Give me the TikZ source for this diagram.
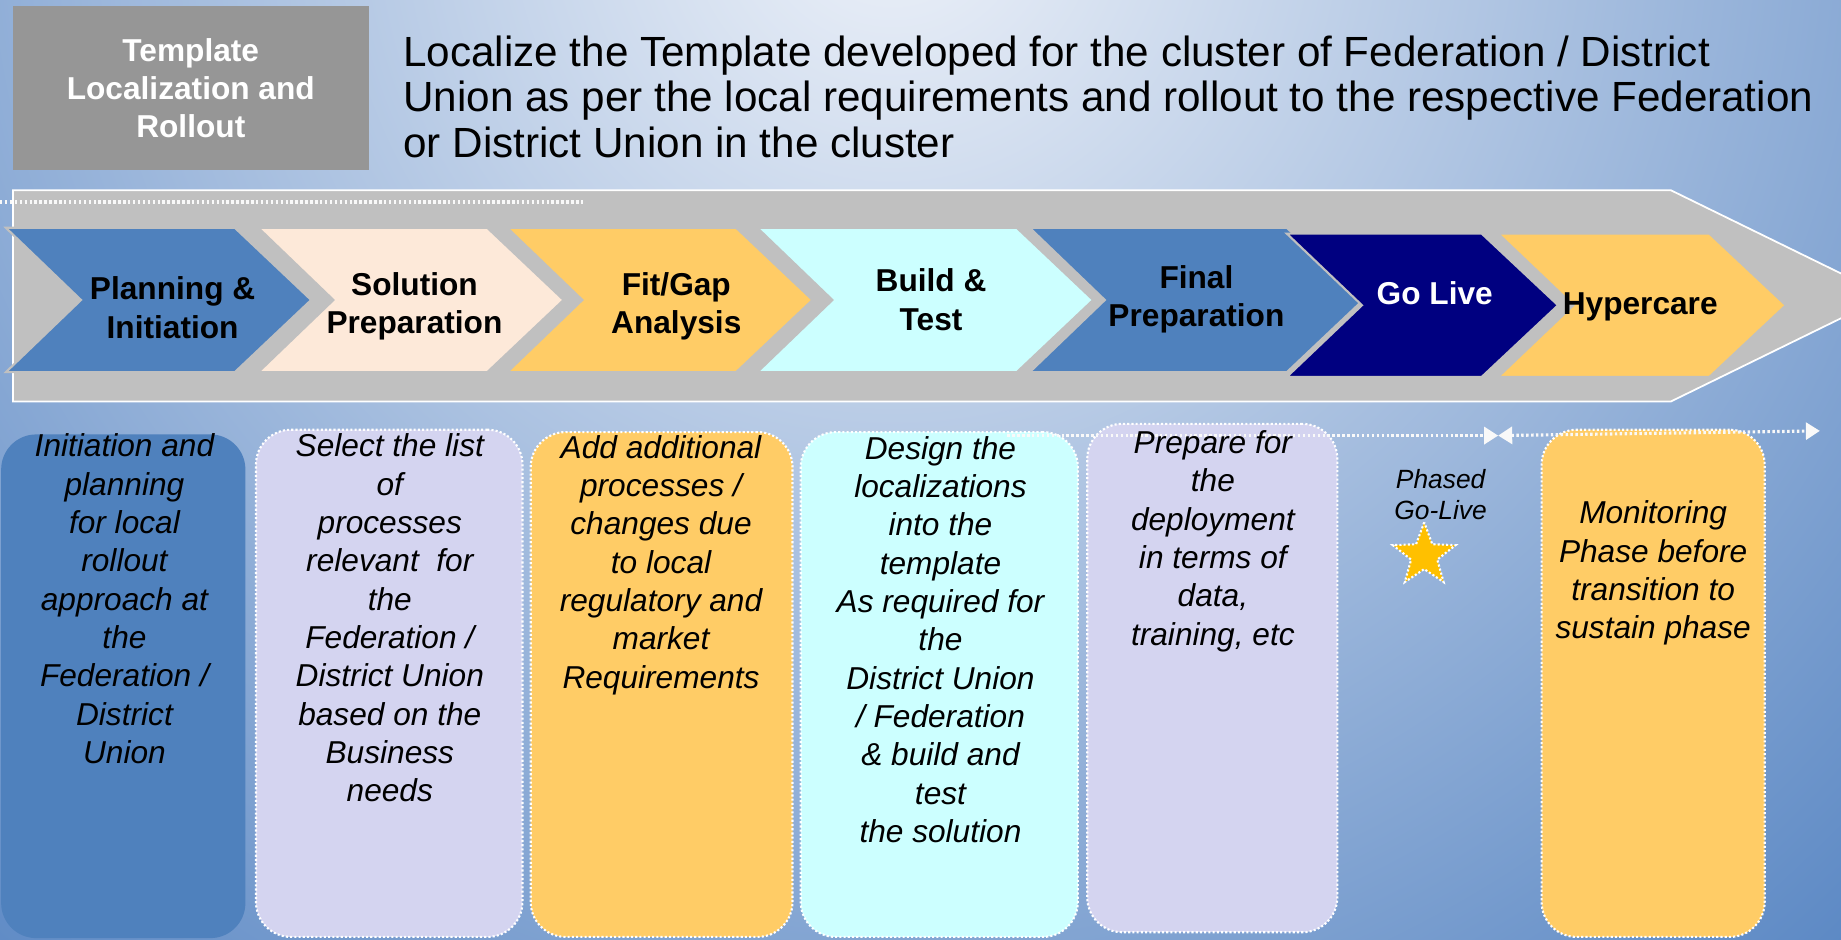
\documentclass[tikz,border=0pt]{standalone}
\usepackage{fontspec}
\setmainfont{Liberation Sans}
\usetikzlibrary{shapes.geometric,arrows.meta,fit}

\definecolor{phaseblue}{HTML}{4F81BD}
\definecolor{peach}{HTML}{FDE9D9}
\definecolor{goldbox}{HTML}{FFCC66}
\definecolor{icebox}{HTML}{CCFFFF}
\definecolor{navybox}{HTML}{000080}
\definecolor{lilac}{HTML}{D4D4F0}
\definecolor{bandgray}{HTML}{C0C0C0}
\definecolor{titlegray}{HTML}{969696}
\definecolor{starcol}{HTML}{FFC000}
\definecolor{bglight}{HTML}{EEF2F9}
\definecolor{bgdark}{HTML}{5080C0}

\begin{document}
\begin{tikzpicture}[x=0.01174cm,y=-0.01174cm,
  chevlabel/.style={font=\fontsize{9}{11}\selectfont\bfseries,align=center,inner sep=0pt},
  stagebox/.style={rounded corners=3.5mm,draw=white,line width=0.6pt,dash pattern=on 0.6pt off 0.6pt,inner sep=0pt},
  stagetext/.style={font=\fontsize{9}{10.9}\selectfont\itshape,align=center,anchor=north,inner sep=0pt},
  dotline/.style={white!95!gray,line width=0.9pt,dash pattern=on 0.7pt off 0.7pt}]
\def\tipA{65}
\def\notchA{64}
\useasboundingbox (0,0) rectangle (1568,800);
  %\draw[help lines] (0,0) grid (1568,800);
% background
\begin{scope}
\clip (0,0) rectangle (1568,800);
\shade[inner color=bglight,outer color=bgdark] (760,-80) circle (15.26cm);
\end{scope}
% heading
\node[fill=titlegray,inner sep=0pt,fit={(11,5) (314,145)}] (tbox) {};
\node[font=\fontsize{9}{10.8}\selectfont\bfseries,text=white,align=center] (ttext) at (tbox.center) {Template\\Localization and\\Rollout};
\node[anchor=north west,align=left,inner sep=0pt,font=\fontsize{12}{12.9}\selectfont] (head) at (343,30)
  {Localize the Template developed for the cluster of Federation / District\\
   Union as per the local requirements and rollout to the respective Federation\\
   or District Union in the cluster};
% band with phases
\filldraw[fill=bandgray,draw=white,line width=0.5pt] (11,162) -- (1423,162) -- (1607,252) -- (1423,342) -- (11,342) -- cycle;
\draw[dotline] (0,172) -- (497,172);
\foreach \xl/\xr/\yt/\yb/\col in {5/200/194/317/phaseblue, 220/415/194/317/peach, 432/627/194/317/goldbox,
  645/866/194/317/icebox, 877/1096/194/317/phaseblue, 1096/1262/199/321/navybox, 1276/1456/199/321/goldbox}
  \filldraw[fill=\col,draw=bandgray,line width=0.6pt] (\xl,\yt) -- (\xr,\yt) -- ({\xr+\tipA},{(\yt+\yb)/2})
    -- (\xr,\yb) -- (\xl,\yb) -- ({\xl+\notchA},{(\yt+\yb)/2}) -- cycle;
\path
(147,262) node[chevlabel] (plan) {Planning \&\\Initiation}
(353,261) node[chevlabel] (solprep) {Solution\\Preparation}
(576,261) node[chevlabel] (fitgap) {Fit/Gap\\Analysis}
(793,255) node[chevlabel] (build) {Build \&\\Test}
(1019,255) node[chevlabel] (finprep) {Final\\Preparation}
(1222,250) node[chevlabel,text=white] (golive) {Go Live}
(1397,261) node[chevlabel] (hyper) {Hypercare}
;
% detail boxes
\node[stagebox,fill=phaseblue,draw=none,fit={(1,370) (209,799)}] (bx1) {};
\node[stagebox,fill=lilac,fit={(218,366) (445,798)}] (bx2) {};
\node[stagebox,fill=goldbox,fit={(452,368) (675,798)}] (bx3) {};
\node[stagebox,fill=icebox,fit={(682,368) (918,798)}] (bx4) {};
\node[stagebox,fill=lilac,fit={(926,361) (1139,794)}] (bx5) {};
\node[stagebox,fill=goldbox,fit={(1313,366) (1503,798)}] (bx6) {};
% timeline
\coordinate (tl) at (858,371);
\coordinate (gl) at (1276,371);
\coordinate (tr) at (1550,367);
\draw[dotline,-{Triangle[length=1.4mm,width=1.7mm]}] (tl) -- (gl);
\draw[dotline,{Triangle[length=1.4mm,width=1.7mm]}-{Triangle[length=1.4mm,width=1.7mm]}] (gl) -- (tr);
\node[star,star points=5,star point ratio=2.4,fill=starcol,draw=white,line width=0.6pt,dash pattern=on 0.6pt off 0.6pt,minimum size=0.66cm,inner sep=0pt] (star) at (1213,473) {};
\node[stagetext,font=\fontsize{7.5}{9}\selectfont\itshape] (phased) at (1227,399) {Phased\\Go-Live};
\path
(106,369) node[stagetext] (t1) {Initiation and\\planning\\for local\\rollout\\approach at\\the\\Federation /\\District\\Union}
(332,369) node[stagetext] (t2) {Select the list\\of\\processes\\relevant\ \ for\\the\\Federation /\\District Union\\based on the\\Business\\needs}
(563,370) node[stagetext] (t3) {Add additional\\processes /\\changes due\\to local\\regulatory and\\market\\Requirements}
(801,371) node[stagetext] (t4) {Design the\\localizations\\into the\\template\\As required for\\the\\District Union\\/ Federation\\\& build and\\test\\the solution}
(1033,366) node[stagetext] (t5) {Prepare for\\the\\deployment\\in terms of\\data,\\training, etc}
(1408,426) node[stagetext] (t6) {Monitoring\\Phase before\\transition to\\sustain phase}
;
\end{tikzpicture}
\end{document}
